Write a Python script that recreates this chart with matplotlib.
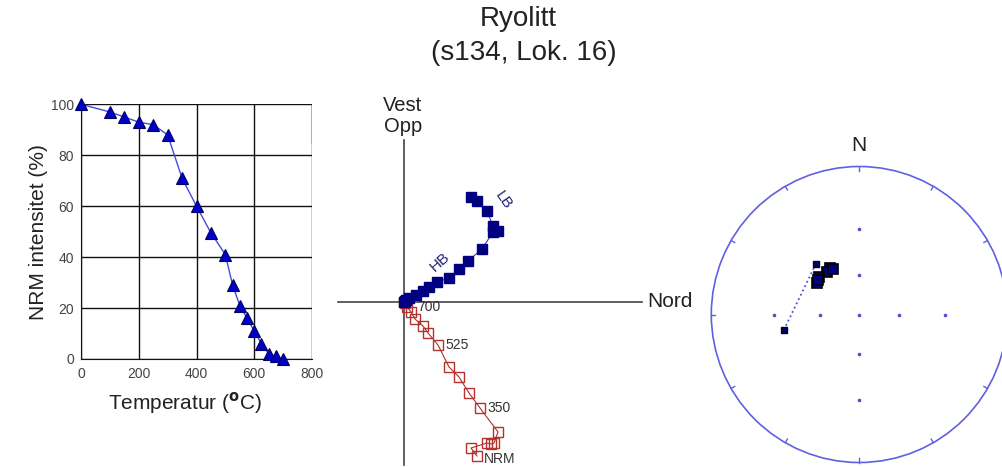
import numpy as np
import matplotlib
matplotlib.use('Agg')
import matplotlib.pyplot as plt
from matplotlib.patches import Circle

plt.rcParams['font.family'] = ['Liberation Sans', 'DejaVu Sans']

# --- thermal demagnetisation curve ---
temps = [0, 100, 150, 200, 250, 300, 350, 400, 450, 500, 525, 550, 575, 600, 625, 650, 675, 700]
nrm_pct = [100, 97, 95, 93, 92, 88, 71, 60, 49.5, 41, 29, 21, 16, 11, 6, 2, 1, 0]

# --- Zijderveld diagram (arbitrary units) ---
north_h = [6.7, 7.3, 8.3, 8.9, 9.4, 8.9, 7.8, 6.4, 5.5, 4.5, 3.3, 2.5, 1.9, 1.2, 0.5, 0.2, 0.05, 0]
west = [10.5, 10.1, 9.1, 7.6, 7.1, 7.0, 5.3, 4.1, 3.3, 2.4, 2.0, 1.5, 1.1, 0.7, 0.4, 0.15, 0.05, 0]
north_v = [7.3, 6.7, 8.3, 8.7, 9.0, 9.4, 7.6, 6.5, 5.5, 4.5, 3.4, 2.4, 1.9, 1.1, 0.7, 0.3, 0.1, 0]
up = [-15.4, -14.6, -14.1, -14.2, -14.1, -13.0, -10.6, -9.1, -7.5, -6.5, -4.3, -3.1, -2.4, -1.7, -1.0, -0.5, -0.15, 0]
step_labels = {700: '700', 525: '525', 350: '350', 0: 'NRM'}

# --- stereonet directions (first two = outlier + start, rest = cluster) ---
dec = [258.4, 319.0, 327.6, 322.8, 330.1, 306.6, 312.7, 310.0]
inc = [35.0, 41.6, 49.4, 50.6, 51.2, 51.0, 49.4, 50.0]
grid_inc = [30, 60]
grid_az = [0, 90, 180, 270]


def wulff(d, i):
    d = np.radians(np.asarray(d, float))
    r = np.tan(np.radians(90 - np.asarray(i, float)) / 2)
    return r * np.sin(d), r * np.cos(d)


fig = plt.figure(figsize=(10.02, 4.67), dpi=100)
W, H = 1002, 467

fig.text(518 / W, 1 - 19 / H, 'Ryolitt', ha='center', va='center', fontsize=20, color='#222222')
fig.text(524 / W, 1 - 53 / H, '(s134, Lok. 16)', ha='center', va='center', fontsize=20, color='#222222')

# left panel
ax1 = fig.add_axes([81 / W, 1 - 359 / H, 231 / W, 254.7 / H])
ax1.plot(temps, nrm_pct, color='#4a4ad8', lw=1, marker='^', ms=8,
         mfc='#0000c8', mec='#000060', mew=0.8, clip_on=False, zorder=3)
ax1.set_xlim(0, 800)
ax1.set_ylim(0, 100)
ax1.set_xticks([0, 200, 400, 600, 800])
ax1.set_yticks([0, 20, 40, 60, 80, 100])
ax1.grid(True, color='#111111', lw=1)
for s in ['top', 'right']:
    ax1.spines[s].set_visible(False)
for s in ['left', 'bottom']:
    ax1.spines[s].set_color('#111111')
ax1.axvline(800, ymin=0.85, ymax=1, color='#333333', lw=1)
ax1.tick_params(length=0, labelsize=10, colors='#444444')
ax1.tick_params(axis='x', pad=6)
ax1.tick_params(axis='y', pad=5)
ax1.set_ylabel('NRM intensitet (%)', fontsize=15, color='#222222', va='center')
ax1.yaxis.set_label_coords(-0.186, 0.5)
ax1.set_xlabel('Temperatur ($^{\\mathbf{o}}$C)', fontsize=15, color='#222222', va='center')
ax1.xaxis.set_label_coords(0.45, -0.173)

# middle panel
ax2 = fig.add_axes([338 / W, 1 - 465 / H, 304 / W, 325 / H])
ax2.set_xlim(-6.6, 23.8)
ax2.set_ylim(-16.3, 16.2)
ax2.spines['left'].set_position('zero')
ax2.spines['bottom'].set_position('zero')
for s in ['top', 'right']:
    ax2.spines[s].set_visible(False)
for s in ['left', 'bottom']:
    ax2.spines[s].set_color('#444444')
    ax2.spines[s].set_linewidth(1.2)
ax2.set_xticks([])
ax2.set_yticks([])
ax2.patch.set_alpha(0)

ax2.plot(north_v, up, color='#b03030', lw=0.8, marker='s', ms=6.5,
         mfc='none', mec='#b5332e', mew=1, zorder=3)
ax2.plot(north_h, west, color='#4040a0', lw=0.8, marker='s', ms=7,
         mfc='#000080', mec='#000080', zorder=4)
for t, lab in step_labels.items():
    k = temps.index(t)
    off = (13, -5) if t == 700 else ((7, -3) if t == 0 else (7, 0))
    ax2.annotate(lab, (north_v[k], up[k]), xytext=off, textcoords='offset pixels',
                 ha='left', va='center', fontsize=10, color='#333333')
ax2.text(3.6, 4.0, 'HB', rotation=42, ha='center', va='center', fontsize=11, color='#1f1f7a')
ax2.text(9.9, 10.2, 'LB', rotation=-55, ha='center', va='center', fontsize=11, color='#1f1f7a')
ax2.annotate('Vest\nOpp', (0, 16.2), xytext=(-1, 4), textcoords='offset pixels',
             ha='center', va='bottom', fontsize=14.5, color='#222222', linespacing=1.1)
ax2.annotate('Nord', (23.8, 0), xytext=(5, 0), textcoords='offset pixels',
             ha='left', va='center', fontsize=15, color='#222222', annotation_clip=False)

# right panel: stereonet
R = 148.0
ax3 = fig.add_axes([(859.3 - 160) / W, 1 - (314.5 + 160) / H, 320 / W, 320 / H])
lim = 160 / R
ax3.set_xlim(-lim, lim)
ax3.set_ylim(-lim, lim)
ax3.axis('off')
ax3.add_patch(Circle((0, 0), 1, fill=False, ec='#6060e0', lw=1.2))
for a in np.radians(np.arange(0, 360, 30)):
    ax3.plot([np.sin(a), 0.972 * np.sin(a)], [np.cos(a), 0.972 * np.cos(a)], color='#6060e0', lw=1)
gx, gy = wulff([az for az in grid_az for _ in grid_inc], [i for _ in grid_az for i in grid_inc])
ax3.plot(list(gx) + [0], list(gy) + [0], ls='none', marker='o', ms=1.6, color='#5050d0')
px, py = wulff(dec, inc)
ax3.plot(px[:2], py[:2], ls=':', color='#5050d0', lw=1.3, zorder=2)
ax3.plot(px[:2], py[:2], ls='none', marker='s', ms=5, mfc='#000070', mec='black', mew=1, zorder=3)
ax3.plot(px[2:], py[2:], ls='none', marker='s', ms=7.5, mfc='#000080', mec='black', mew=1.2, zorder=3)
ax3.text(0, 1 + 21 / R, 'N', ha='center', va='center', fontsize=15, color='#222222')

fig.savefig('out.png', dpi=100)
